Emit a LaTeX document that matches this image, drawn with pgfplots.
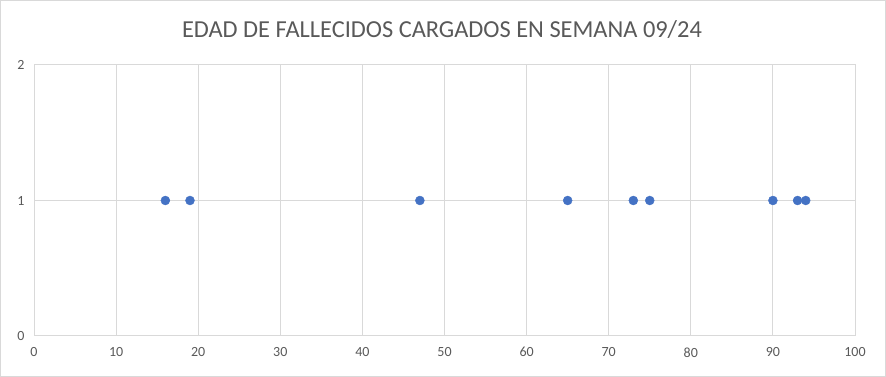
\documentclass[border=0pt]{standalone}
\usepackage{fontspec}
\setmainfont{Carlito}
\usepackage{pgfplots}
\pgfplotsset{compat=1.18}
\definecolor{gridc}{RGB}{217,217,217}
\definecolor{txtc}{RGB}{89,89,89}
\definecolor{ptc}{RGB}{68,114,196}
\begin{document}
\begin{tikzpicture}[x=1pt,y=1pt]
\useasboundingbox (0,0) rectangle (886,377);
\draw[gridc, line width=1pt] (0.75,0.75) rectangle (885.25,376.25);
\node[txtc, font=\fontsize{24.4}{28}\selectfont] at (442,347) {EDAD DE FALLECIDOS CARGADOS EN SEMANA 09/24};
\begin{axis}[
  at={(34pt,41pt)}, anchor=south west,
  width=821pt, height=271pt, scale only axis,
  xmin=0, xmax=100, ymin=0, ymax=2,
  xtick={0,10,...,100}, ytick={0,1,2},
  grid=major,
  major grid style={gridc, line width=1pt},
  axis line style={gridc, line width=1pt},
  major tick length=0pt,
  tick label style={txtc, font=\fontsize{14}{16}\selectfont},
  /pgf/number format/assume math mode=true,
  xticklabel style={yshift=-8pt},
  yticklabel style={xshift=-6pt},
]
\addplot[only marks, mark=*, mark size=4.5pt, mark options={fill=ptc, draw=ptc}] coordinates {
(16,1) (19,1) (47,1) (65,1) (73,1) (75,1) (90,1) (93,1) (94,1)
};
\end{axis}
\end{tikzpicture}
\end{document}
